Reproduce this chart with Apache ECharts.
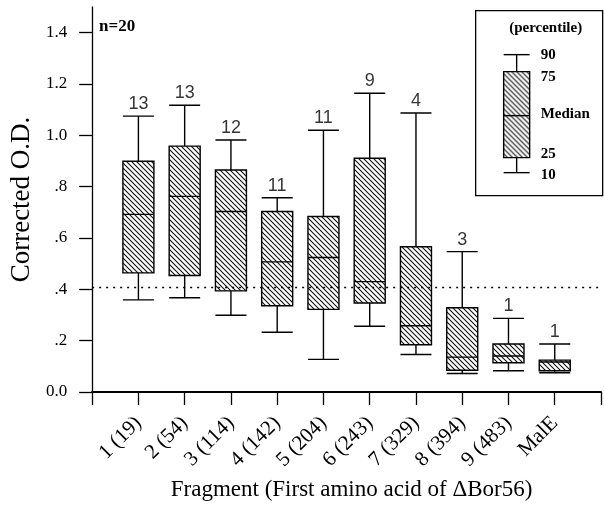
<!DOCTYPE html>
<html>
<head>
<meta charset="utf-8">
<script src="https://cdn.jsdelivr.net/npm/echarts@6/dist/echarts.min.js"></script>
<style>
  html, body { margin: 0; padding: 0; background: #fff; }
  #chart { width: 604px; height: 506px; }
</style>
</head>
<body>
<div id="chart"></div>
<script>
// fragments on the x axis
const categories = ["1 (19)", "2 (54)", "3 (114)", "4 (142)", "5 (204)",
  "6 (243)", "7 (329)", "8 (394)", "9 (483)", "MalE"];
// percentiles
const p10 = [0.359, 0.367, 0.299, 0.233, 0.127, 0.256, 0.146, 0.072, 0.083, 0.075];
const p25 = [0.464, 0.454, 0.394, 0.336, 0.322, 0.347, 0.184, 0.085, 0.114, 0.083];
const median = [0.692, 0.762, 0.703, 0.507, 0.524, 0.430, 0.258, 0.136, 0.140, 0.117];
const p75 = [0.899, 0.958, 0.865, 0.703, 0.684, 0.911, 0.566, 0.328, 0.187, 0.124];
const p90 = [1.075, 1.117, 0.982, 0.757, 1.020, 1.164, 1.087, 0.547, 0.287, 0.187];
const counts = [13, 13, 12, 11, 11, 9, 4, 3, 1, 1];
const cutoff = 0.41;
const yTicks = [0, 0.2, 0.4, 0.6, 0.8, 1.0, 1.2, 1.4];
const yTickLabels = ["0.0", ".2", ".4", ".6", ".8", "1.0", "1.2", "1.4"];

const serif = "Liberation Serif";
const sans = "Liberation Sans";

// hatch "\\\\" pattern
function hatch() {
  const s = 5, c = document.createElement("canvas");
  c.width = s; c.height = s;
  const g = c.getContext("2d");
  g.fillStyle = "#fff";
  g.fillRect(0, 0, s, s);
  g.strokeStyle = "#111";
  g.lineWidth = 1.1;
  g.beginPath();
  g.moveTo(-1, -1); g.lineTo(s + 1, s + 1);
  g.moveTo(-1, s - 1); g.lineTo(1, s + 1);
  g.moveTo(s - 1, -1); g.lineTo(s + 1, 1);
  g.stroke();
  return c;
}
const pattern = { image: hatch(), repeat: "repeat" };

// category axis padded so ticks sit at both ends
const xCats = [""].concat(categories, [""]);
const boxData = categories.map((c, i) => [i + 1, p10[i], p25[i], median[i], p75[i], p90[i]]);
const countData = categories.map((c, i) => [i + 1, p90[i], counts[i]]);

const chart = echarts.init(document.getElementById("chart"));

const legendFont = "bold 15px " + serif;

const option = {
  animation: false,
  backgroundColor: "#fff",
  grid: { left: 90, right: 3, top: 7, bottom: 105 },
  xAxis: {
    type: "category",
    data: xCats,
    boundaryGap: false,
    name: "Fragment (First amino acid of \u0394Bor56)",
    nameLocation: "middle",
    nameGap: 86,
    nameTextStyle: { fontFamily: serif, fontSize: 23, color: "#000", padding: [0, 0, 0, 10] },
    axisLine: { lineStyle: { color: "#000", width: 2 } },
    axisTick: { interval: 0, length: 13, lineStyle: { color: "#000", width: 1.3 } },
    axisLabel: {
      interval: 0, rotate: 45, margin: 28,
      fontFamily: serif, fontSize: 21, color: "#000"
    },
    splitLine: { show: false }
  },
  yAxis: {
    type: "value",
    min: 0, max: 1.5,
    name: "Corrected O.D.",
    nameLocation: "middle",
    nameGap: 54,
    nameTextStyle: { fontFamily: serif, fontSize: 27, color: "#000" },
    axisLine: { show: true, lineStyle: { color: "#000", width: 1.3 } },
    axisTick: { show: true, length: 13, customValues: yTicks, lineStyle: { color: "#000", width: 1.3 } },
    axisLabel: {
      customValues: yTicks,
      margin: 25,
      fontFamily: serif, fontSize: 17, color: "#000",
      formatter: v => yTickLabels[Math.round(v / 0.2)]
    },
    splitLine: { show: false }
  },
  series: [
    {
      type: "boxplot",
      data: boxData,
      dimensions: ["pos", "p10", "p25", "median", "p75", "p90"],
      encode: { x: "pos", y: ["p10", "p25", "median", "p75", "p90"] },
      boxWidth: [31, 31],
      itemStyle: { color: pattern, borderColor: "#000", borderWidth: 1.4 },
      markLine: {
        silent: true,
        symbol: "none",
        label: { show: false },
        lineStyle: { color: "#000", type: [2, 5], width: 1.3 },
        data: [{ yAxis: cutoff }]
      }
    },
    {
      type: "scatter",
      data: countData,
      symbolSize: 0,
      label: {
        show: true,
        position: "top",
        distance: 3,
        fontFamily: sans,
        fontSize: 18,
        color: "#000",
        formatter: p => String(p.value[2])
      }
    }
  ],
  graphic: [
    {
      type: "text", left: 99, top: 18,
      style: { text: "n=20", font: "bold 17px " + serif, fill: "#000" }
    },
    {
      type: "group", left: 475, top: 10,
      children: [
        { type: "rect", shape: { x: 0, y: 0, width: 127, height: 185 },
          style: { fill: "#fff", stroke: "#000", lineWidth: 1.3 } },
        { type: "text", x: 70, y: 17,
          style: { text: "(percentile)", font: legendFont, fill: "#000", align: "center", verticalAlign: "middle" } },
        { type: "line", shape: { x1: 28, y1: 44, x2: 54, y2: 44 }, style: { stroke: "#000", lineWidth: 1.4 } },
        { type: "line", shape: { x1: 41, y1: 44, x2: 41, y2: 61 }, style: { stroke: "#000", lineWidth: 1.4 } },
        { type: "rect", shape: { x: 28, y: 61, width: 26, height: 86 },
          style: { fill: pattern, stroke: "#000", lineWidth: 1.4 } },
        { type: "line", shape: { x1: 28, y1: 105, x2: 54, y2: 105 }, style: { stroke: "#000", lineWidth: 1.4 } },
        { type: "line", shape: { x1: 41, y1: 147, x2: 41, y2: 162 }, style: { stroke: "#000", lineWidth: 1.4 } },
        { type: "line", shape: { x1: 28, y1: 162, x2: 54, y2: 162 }, style: { stroke: "#000", lineWidth: 1.4 } },
        { type: "text", x: 65, y: 44, style: { text: "90", font: legendFont, fill: "#000", verticalAlign: "middle" } },
        { type: "text", x: 65, y: 66, style: { text: "75", font: legendFont, fill: "#000", verticalAlign: "middle" } },
        { type: "text", x: 65, y: 103, style: { text: "Median", font: legendFont, fill: "#000", verticalAlign: "middle" } },
        { type: "text", x: 65, y: 143, style: { text: "25", font: legendFont, fill: "#000", verticalAlign: "middle" } },
        { type: "text", x: 65, y: 164, style: { text: "10", font: legendFont, fill: "#000", verticalAlign: "middle" } }
      ]
    }
  ]
};

chart.setOption(option);
</script>
</body>
</html>
